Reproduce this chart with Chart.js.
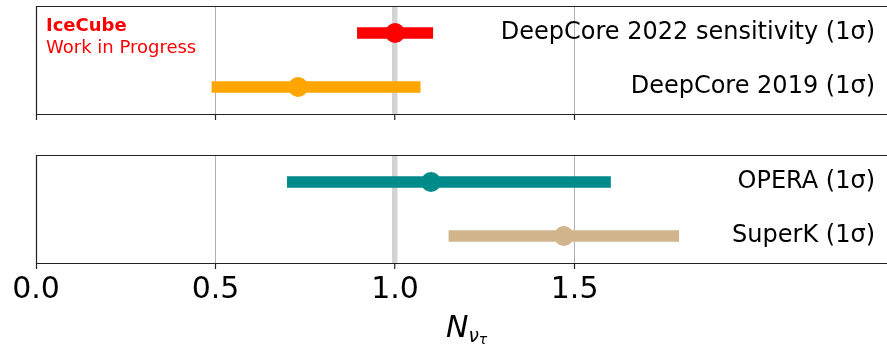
<!DOCTYPE html>
<html>
<head>
<meta charset="utf-8">
<script src="https://cdn.jsdelivr.net/npm/chart.js@4"></script>
<style>
  body { margin: 0; background: #fff; }
  #wrap { position: relative; width: 887px; height: 344px; font-family: 'DejaVu Sans', sans-serif; overflow: hidden; }
  .panel { position: absolute; left: 0; width: 887px; }
  #topPanel { top: 0; height: 140px; }
  #bottomPanel { top: 140px; height: 204px; }
  .note { position: absolute; color: #ff0000; font-size: 18px; line-height: 1; white-space: nowrap; }
  #xTitle { position: absolute; left: 446px; top: 312px; font-size: 30px; line-height: 1; font-style: italic; white-space: nowrap; }
  #xTitle .s1 { font-size: 0.62em; position: relative; top: 0.25em; }
  #xTitle .s2 { font-size: 0.75em; position: relative; top: 0.2em; }
</style>
</head>
<body>
<div id="wrap">
  <div class="panel" id="topPanel"><canvas id="topChart"></canvas></div>
  <div class="panel" id="bottomPanel"><canvas id="bottomChart"></canvas></div>
  <div class="note" style="left:46px; top:16px; font-weight:bold;">IceCube</div>
  <div class="note" style="left:46px; top:38px;">Work in Progress</div>
  <div id="xTitle">N<span class="s1">ν<span class="s2">τ</span></span></div>
</div>
<script>
// one row per experiment, top panel = rows 0-1, bottom panel = rows 2-3
const experiments = ['DeepCore 2022 sensitivity (1σ)', 'DeepCore 2019 (1σ)', 'OPERA (1σ)', 'SuperK (1σ)'];
const bestFit = [1.0, 0.73, 1.10, 1.47];
const lowerEdge = [0.895, 0.49, 0.70, 1.15];
const upperEdge = [1.105, 1.07, 1.60, 1.79];
const colours = ['#ff0000', '#ffa500', '#008b8b', '#d2b48c'];
const xTicks = [0.0, 0.5, 1.0, 1.5];
const xMin = 0;
const xMax = 2.37;
const referenceValue = 1.0;

Chart.defaults.font.family = "'DejaVu Sans', sans-serif";
Chart.defaults.color = '#000';

// matplotlib style box round the plot area (right side falls off the picture)
const framePlugin = {
  id: 'frame',
  afterDraw(chart) {
    const a = chart.chartArea;
    const ctx = chart.ctx;
    ctx.save();
    ctx.strokeStyle = '#222';
    ctx.lineWidth = 1.2;
    ctx.beginPath();
    ctx.moveTo(a.right, a.top + 0.5);
    ctx.lineTo(a.left + 0.5, a.top + 0.5);
    ctx.lineTo(a.left + 0.5, a.bottom + 0.5);
    ctx.lineTo(a.right, a.bottom + 0.5);
    ctx.stroke();
    ctx.restore();
  }
};

function noPadding(s) {
  s.paddingTop = 0;
  s.paddingBottom = 0;
  s.paddingLeft = 0;
  s.paddingRight = 0;
}

function makePanel(canvasId, rows, showLabels, padTop, axisHeight) {
  const labels = rows.map(i => experiments[i]);
  return new Chart(document.getElementById(canvasId), {
    type: 'bar',
    data: {
      labels: labels,
      datasets: [
        {
          type: 'line',
          data: rows.map(i => bestFit[i]),
          showLine: false,
          pointRadius: 10,
          pointHoverRadius: 10,
          pointBackgroundColor: rows.map(i => colours[i]),
          pointBorderWidth: 0,
          order: 0
        },
        {
          type: 'bar',
          data: rows.map(i => [lowerEdge[i], upperEdge[i]]),
          backgroundColor: rows.map(i => colours[i]),
          barThickness: 11,
          order: 1
        }
      ]
    },
    options: {
      indexAxis: 'y',
      responsive: true,
      maintainAspectRatio: false,
      animation: false,
      plugins: { legend: { display: false }, tooltip: { enabled: false } },
      layout: { autoPadding: false, padding: { top: padTop, left: 36, right: 0, bottom: 0 } },
      scales: {
        x: {
          type: 'linear',
          min: xMin,
          max: xMax,
          afterBuildTicks: s => { s.ticks = xTicks.map(v => ({ value: v })); },
          afterFit: s => { s.height = axisHeight; noPadding(s); },
          ticks: {
            display: showLabels,
            padding: 3,
            font: { size: 30 },
            color: '#000',
            callback: v => v.toFixed(1)
          },
          grid: {
            color: c => (c.tick && c.tick.value === referenceValue) ? '#d3d3d3' : '#b0b0b0',
            lineWidth: c => (c.tick && c.tick.value === referenceValue) ? 5.5 : 1,
            tickColor: '#222',
            tickWidth: 1.2,
            tickLength: 6
          },
          border: { display: false }
        },
        y: {
          type: 'category',
          position: 'right',
          afterFit: s => { s.width = 0; noPadding(s); },
          ticks: { mirror: true, padding: -12, font: { size: 24 }, color: '#000' },
          grid: { display: false, drawTicks: false },
          border: { display: false }
        }
      }
    },
    plugins: [framePlugin]
  });
}

makePanel('topChart', [0, 1], false, 6, 26);
makePanel('bottomChart', [2, 3], true, 15, 81);
</script>
</body>
</html>
